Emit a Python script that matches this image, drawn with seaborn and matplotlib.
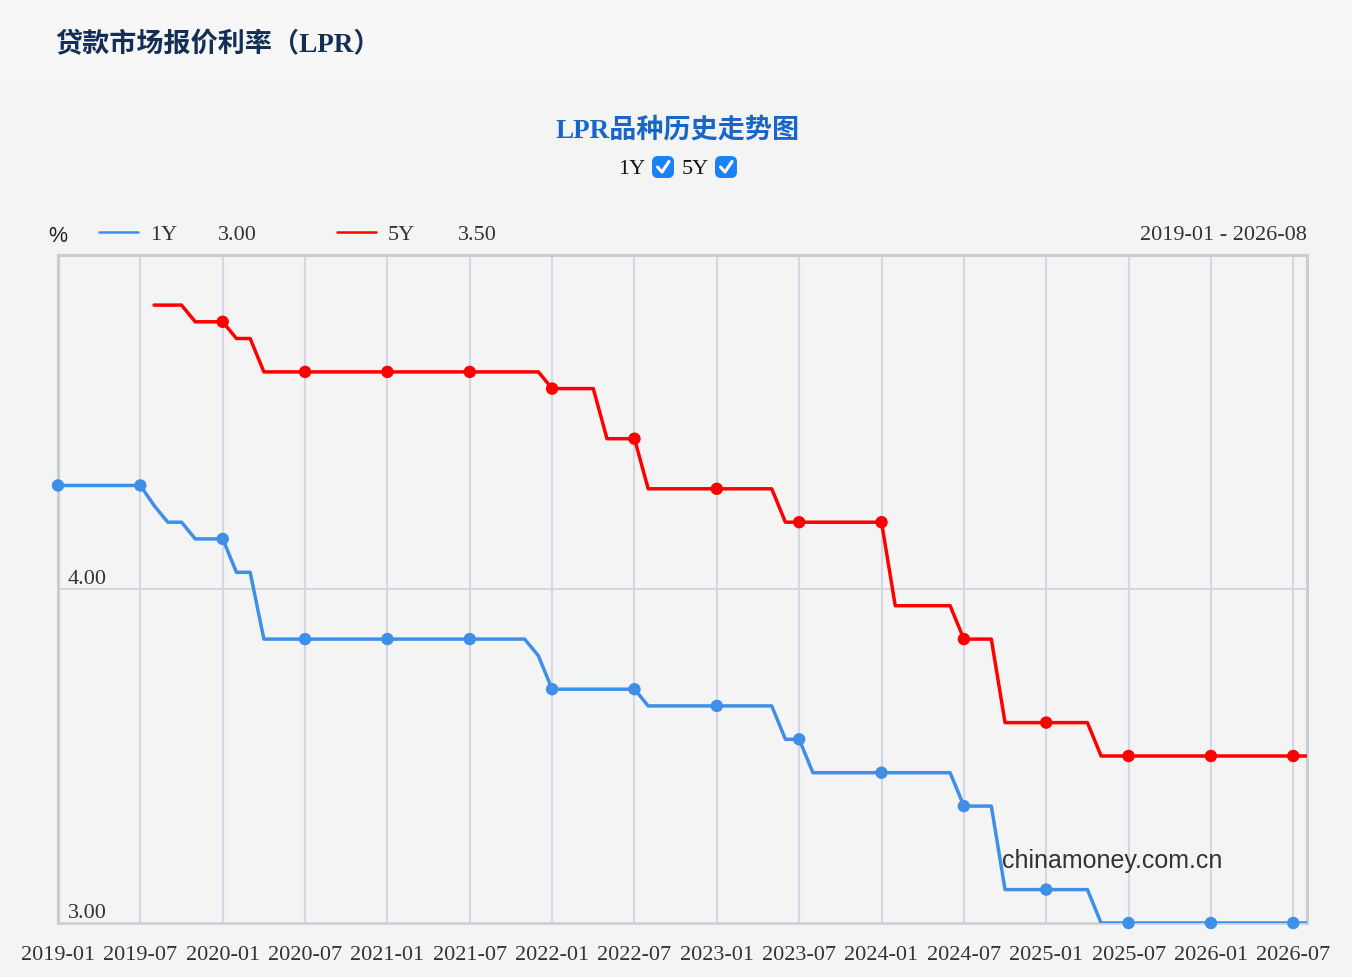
import numpy as np
import pandas as pd
import matplotlib
matplotlib.use('Agg')
import matplotlib.pyplot as plt
import seaborn as sns
from matplotlib.patches import Rectangle, FancyBboxPatch
from matplotlib.lines import Line2D
from matplotlib.transforms import IdentityTransform

# monthly LPR values, 2019-01 .. 2026-08
months = [str(p) for p in pd.period_range('2019-01', '2026-08', freq='M')]

lpr_1y = [
    4.31, 4.31, 4.31, 4.31, 4.31, 4.31, 4.31, 4.25, 4.20, 4.20, 4.15, 4.15,  # 2019
    4.15, 4.05, 4.05, 3.85, 3.85, 3.85, 3.85, 3.85, 3.85, 3.85, 3.85, 3.85,  # 2020
    3.85, 3.85, 3.85, 3.85, 3.85, 3.85, 3.85, 3.85, 3.85, 3.85, 3.85, 3.80,  # 2021
    3.70, 3.70, 3.70, 3.70, 3.70, 3.70, 3.70, 3.65, 3.65, 3.65, 3.65, 3.65,  # 2022
    3.65, 3.65, 3.65, 3.65, 3.65, 3.55, 3.55, 3.45, 3.45, 3.45, 3.45, 3.45,  # 2023
    3.45, 3.45, 3.45, 3.45, 3.45, 3.45, 3.35, 3.35, 3.35, 3.10, 3.10, 3.10,  # 2024
    3.10, 3.10, 3.10, 3.10, 3.00, 3.00, 3.00, 3.00, 3.00, 3.00, 3.00, 3.00,  # 2025
    3.00, 3.00, 3.00, 3.00, 3.00, 3.00, 3.00, 3.00,                          # 2026
]
lpr_5y = [
    np.nan, np.nan, np.nan, np.nan, np.nan, np.nan, np.nan, 4.85, 4.85, 4.85, 4.80, 4.80,  # 2019
    4.80, 4.75, 4.75, 4.65, 4.65, 4.65, 4.65, 4.65, 4.65, 4.65, 4.65, 4.65,  # 2020
    4.65, 4.65, 4.65, 4.65, 4.65, 4.65, 4.65, 4.65, 4.65, 4.65, 4.65, 4.65,  # 2021
    4.60, 4.60, 4.60, 4.60, 4.45, 4.45, 4.45, 4.30, 4.30, 4.30, 4.30, 4.30,  # 2022
    4.30, 4.30, 4.30, 4.30, 4.30, 4.20, 4.20, 4.20, 4.20, 4.20, 4.20, 4.20,  # 2023
    4.20, 3.95, 3.95, 3.95, 3.95, 3.95, 3.85, 3.85, 3.85, 3.60, 3.60, 3.60,  # 2024
    3.60, 3.60, 3.60, 3.60, 3.50, 3.50, 3.50, 3.50, 3.50, 3.50, 3.50, 3.50,  # 2025
    3.50, 3.50, 3.50, 3.50, 3.50, 3.50, 3.50, 3.50,                          # 2026
]
series_names = ['1Y', '5Y']
latest = ['3.00', '3.50']

BLUE = '#3f8fe9'
RED = '#ff0000'
palette = {'1Y': BLUE, '5Y': RED}

df = pd.DataFrame({
    'idx': list(range(len(months))) * 2,
    'month': months * 2,
    'rate': lpr_1y + lpr_5y,
    'series': ['1Y'] * len(months) + ['5Y'] * len(months),
}).dropna()
marks = df[df['month'].str.endswith(('-01', '-07'))]

sns.set_style('white')
plt.rcParams['font.family'] = ['Liberation Serif', 'Noto Sans CJK SC', 'DejaVu Sans']

W, H = 1352, 978
fig = plt.figure(figsize=(W / 100, H / 100), dpi=100)
fig.patch.set_facecolor('#f4f4f4')
# lighter header band fading into the page colour
fig.add_artist(Rectangle((0, 1 - 72 / H), 1, 72 / H, transform=fig.transFigure,
                         facecolor='#f7f7f7', edgecolor='none', zorder=0))
for k, c in enumerate(['#f7f7f7', '#f6f6f6', '#f6f6f6', '#f5f5f5', '#f5f5f5']):
    fig.add_artist(Rectangle((0, 1 - (74 + 3 * k) / H), 1, 3 / H, transform=fig.transFigure,
                             facecolor=c, edgecolor='none', zorder=0))

ax = fig.add_axes([58 / W, 1 - 924 / H, (1307 - 58) / W, (924 - 256) / H])
ax.set_facecolor('#f4f4f4')

sns.lineplot(data=df, x='idx', y='rate', hue='series', palette=palette,
             linewidth=2.5, legend=False, ax=ax, zorder=3)
sns.scatterplot(data=marks, x='idx', y='rate', hue='series', palette=palette,
                s=80, edgecolor='none', legend=False, ax=ax, zorder=4, clip_on=False)

ax.set_xlim(0, len(months) - 1)
ax.set_ylim(3.0, 5.0)
tick_pos = list(range(0, len(months), 6))
ax.set_xticks(tick_pos)
ax.set_xticklabels([months[i] for i in tick_pos], fontsize=16, color='#333333')
ax.set_yticks([4.0])
ax.set_yticklabels([])
ax.tick_params(axis='both', length=0)
ax.tick_params(axis='x', pad=15.5)
ax.grid(True, color='#d4d8df', linewidth=1.5)
ax.set_xlabel('')
ax.set_ylabel('')
for side in ['left', 'top', 'right']:
    ax.spines[side].set_color('#c9cdd4')
    ax.spines[side].set_linewidth(2.2)
ax.spines['bottom'].set_color('#c9cdd4')
ax.spines['bottom'].set_linewidth(1.8)

for v in [4.0, 3.0]:
    ax.annotate(f'{v:.2f}', xy=(0, v), xycoords=('axes fraction', 'data'),
                xytext=(7, 4), textcoords='offset points', ha='left', va='baseline',
                fontsize=16, color='#333333')

# titles
fig.text(55 / W, 1 - 45 / H, '贷款市场报价利率（LPR）', fontsize=19.5, fontweight='bold',
         color='#142f55', va='center', ha='left')
fig.text(678 / W, 1 - 131 / H, 'LPR品种历史走势图', fontsize=19.5, fontweight='bold',
         color='#1a66c8', va='center', ha='center')

# checkbox row
for label, tx, bx in [('1Y', 618, 652), ('5Y', 682, 715)]:
    fig.text(tx / W, 1 - 170 / H, label, fontsize=16, color='#111111', va='center', ha='left')
    cy = H - 168
    fig.add_artist(FancyBboxPatch((bx, cy - 11), 22, 22,
                                  boxstyle='round,pad=0,rounding_size=6',
                                  transform=IdentityTransform(),
                                  facecolor='#1a82f7', edgecolor='none'))
    fig.add_artist(Line2D([bx + 5.5, bx + 10, bx + 17], [cy, cy - 5, cy + 5.5],
                          transform=IdentityTransform(), color='white', linewidth=2.2,
                          solid_capstyle='round', solid_joinstyle='round'))

# header row above plot
hy = 1 - 236 / H
fig.text(48 / W, hy, '%', fontsize=15.5, color='#222222', va='center', ha='left',
         family=['Liberation Sans', 'DejaVu Sans'])
for name, lx, nx, vx, val in [('1Y', 99, 150, 218, latest[0]), ('5Y', 337, 388, 458, latest[1])]:
    fig.add_artist(Line2D([lx / W, (lx + 39) / W], [1 - 233 / H] * 2, transform=fig.transFigure,
                          color=palette[name], linewidth=1.8))
    fig.text(nx / W, hy, name, fontsize=16, color='#333333', va='center', ha='left')
    fig.text(vx / W, hy, val, fontsize=16, color='#333333', va='center', ha='left')
fig.text(1307 / W, hy, f'{months[0]} - {months[-1]}', fontsize=16, color='#333333',
         va='center', ha='right')

# watermark
fig.text(1002 / W, 1 - 861 / H, 'chinamoney.com.cn', fontsize=18, color='#333333',
         va='center', ha='left', family=['Liberation Sans', 'DejaVu Sans'], zorder=6)

fig.savefig('out.png', dpi=100, facecolor=fig.get_facecolor())
